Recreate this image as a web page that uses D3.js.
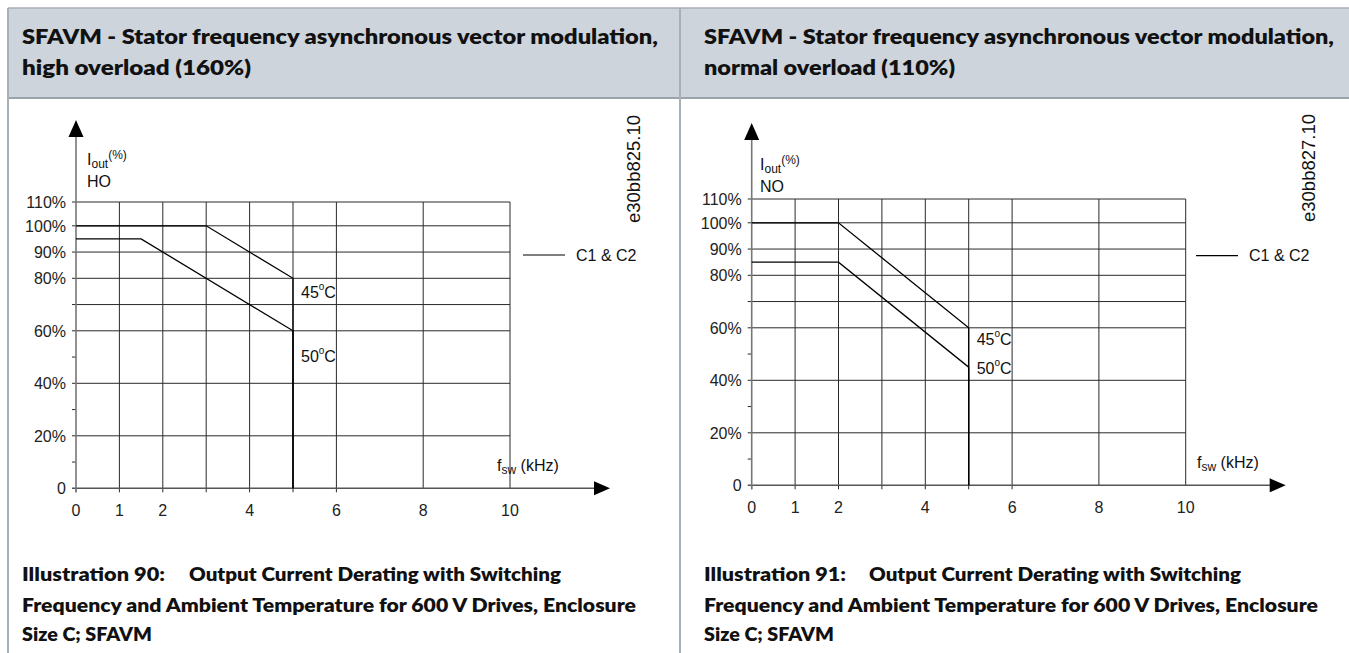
<!DOCTYPE html>
<html>
<head>
<meta charset="utf-8">
<script src="https://cdn.jsdelivr.net/npm/d3@7"></script>
<style>
  html, body { margin: 0; padding: 0; background: #fff; overflow: hidden; }
  svg { display: block; }
</style>
</head>
<body>
<script>
// Break points of the derating curves: switching frequency (kHz) / output current (%)
const hoFreq45 = [0, 3, 5, 5];
const hoCurrent45 = [100, 100, 80, 0];
const hoFreq50 = [0, 1.5, 5, 5];
const hoCurrent50 = [95, 95, 60, 0];
const noFreq45 = [0, 2, 5, 5];
const noCurrent45 = [100, 100, 60, 0];
const noFreq50 = [0, 2, 5, 5];
const noCurrent50 = [85, 85, 45, 0];

// Axis ticks and grid
const yTickValues = [0, 20, 40, 60, 80, 90, 100, 110];
const yTickLabels = ["0", "20%", "40%", "60%", "80%", "90%", "100%", "110%"];
const yGridValues = [20, 40, 60, 70, 80, 90, 100, 110];
const yMinorTicks = [10, 30, 50];
const xTickValues = [0, 1, 2, 4, 6, 8, 10];
const xTickLabels = ["0", "1", "2", "4", "6", "8", "10"];
const xGridValues = [1, 2, 3, 4, 5, 6, 8, 10];
const xAxisTicks = [0, 1, 2, 3, 4, 5, 6];

// Texts
const temperatureLabels = ["45", "50"];
const ratingLabels = ["HO", "NO"];
const drawingCodes = ["e30bb825.10", "e30bb827.10"];
const headerLine1 = "SFAVM - Stator frequency asynchronous vector modulation,";
const headerLine2 = ["high overload (160%)", "normal overload (110%)"];
const illustrationLabels = ["Illustration  90:", "Illustration  91:"];
const captionLines = [
  "Output Current Derating with Switching",
  "Frequency and Ambient Temperature for 600 V Drives, Enclosure",
  "Size C; SFAVM"
];
const legendLabel = "C1 & C2";

const W = 1349, H = 653;
const chartFont = "'Liberation Sans', Arial, sans-serif";
const headFont = "Lato, 'Open Sans', sans-serif";

const svg = d3.select("body").append("svg")
  .attr("width", W).attr("height", H);

// ---------- table frame ----------
const colX = [8, 680];
const headTop = 8, headBottom = 98;

svg.append("rect")
  .attr("x", 8).attr("y", headTop)
  .attr("width", W - 8).attr("height", headBottom - headTop)
  .attr("fill", "#cdd4db");
svg.append("line").attr("x1", 8).attr("x2", W).attr("y1", headTop).attr("y2", headTop)
  .attr("stroke", "#a7afb7").attr("stroke-width", 1.5);
svg.append("line").attr("x1", 8).attr("x2", W).attr("y1", headBottom).attr("y2", headBottom)
  .attr("stroke", "#9aa2ab").attr("stroke-width", 2);
colX.forEach(cx => {
  svg.append("line").attr("x1", cx).attr("x2", cx).attr("y1", headTop).attr("y2", H)
    .attr("stroke", "#a7afb7").attr("stroke-width", 2);
});

// header texts
const headerGeom = [
  { x: 22, w1: 636, w2: 229 },
  { x: 704, w1: 630, w2: 251 }
];
headerGeom.forEach((g, i) => {
  svg.append("text")
    .attr("x", g.x).attr("y", 44)
    .attr("font-family", headFont).attr("font-weight", 800).attr("font-size", 21)
    .attr("fill", "#111")
    .attr("textLength", g.w1).attr("lengthAdjust", "spacingAndGlyphs")
    .text(headerLine1);
  svg.append("text")
    .attr("x", g.x).attr("y", 75)
    .attr("font-family", headFont).attr("font-weight", 800).attr("font-size", 21)
    .attr("fill", "#111")
    .attr("textLength", g.w2).attr("lengthAdjust", "spacingAndGlyphs")
    .text(headerLine2[i]);
});

// captions
const captionGeom = [
  { x: 22, illW: 143, outX: 189, outW: 372, w2: 614, w3: 130 },
  { x: 704, illW: 142, outX: 869, outW: 372, w2: 614, w3: 130 }
];
captionGeom.forEach((g, i) => {
  const cap = svg.append("g")
    .attr("font-family", headFont).attr("font-weight", 800).attr("font-size", 19)
    .attr("fill", "#111");
  cap.append("text").attr("x", g.x).attr("y", 581)
    .attr("textLength", g.illW).attr("lengthAdjust", "spacingAndGlyphs")
    .text(illustrationLabels[i]);
  cap.append("text").attr("x", g.outX).attr("y", 581)
    .attr("textLength", g.outW).attr("lengthAdjust", "spacingAndGlyphs")
    .text(captionLines[0]);
  cap.append("text").attr("x", g.x).attr("y", 612)
    .attr("textLength", g.w2).attr("lengthAdjust", "spacingAndGlyphs")
    .text(captionLines[1]);
  cap.append("text").attr("x", g.x).attr("y", 641)
    .attr("textLength", g.w3).attr("lengthAdjust", "spacingAndGlyphs")
    .text(captionLines[2]);
});

// ---------- charts ----------
const panels = [
  {
    x0: 76, y0: 488.3, arrowTip: 120,
    labelX: 87, labelBase: 165, ratingBase: 187,
    codeX: 633, codeBottom: 223,
    legendY: 255, legendX1: 523, legendX2: 565, legendTextX: 576,
    fswX: 497, fswY: 471,
    curves: [
      { f: hoFreq45, c: hoCurrent45, labelAt: 72.5 },
      { f: hoFreq50, c: hoCurrent50, labelAt: 48 }
    ]
  },
  {
    x0: 751.7, y0: 485.3, arrowTip: 123,
    labelX: 760, labelBase: 170, ratingBase: 191.7,
    codeX: 1308, codeBottom: 222,
    legendY: 255.7, legendX1: 1196, legendX2: 1238, legendTextX: 1249,
    fswX: 1197, fswY: 468,
    curves: [
      { f: noFreq45, c: noCurrent45, labelAt: 53.3 },
      { f: noFreq50, c: noCurrent50, labelAt: 42.3 }
    ]
  }
];

panels.forEach((p, pi) => {
  const x = d3.scaleLinear().domain([0, 10]).range([p.x0, p.x0 + 434]);
  const y = d3.scaleLinear().domain([0, 100, 110]).range([p.y0, p.y0 - 262.5, p.y0 - 286.3]);
  const g = svg.append("g");

  // horizontal grid
  g.selectAll(".hg").data(yGridValues).join("line")
    .attr("x1", p.x0 - 4).attr("x2", x(10))
    .attr("y1", d => y(d)).attr("y2", d => y(d))
    .attr("stroke", "#2a2a2a").attr("stroke-width", 1);

  // minor y ticks
  g.selectAll(".mt").data(yMinorTicks).join("line")
    .attr("x1", p.x0 - 4).attr("x2", p.x0)
    .attr("y1", d => y(d)).attr("y2", d => y(d))
    .attr("stroke", "#2a2a2a").attr("stroke-width", 1);

  // vertical grid
  g.selectAll(".vg").data(xGridValues).join("line")
    .attr("x1", d => x(d)).attr("x2", d => x(d))
    .attr("y1", y(110)).attr("y2", y(0))
    .attr("stroke", "#2a2a2a").attr("stroke-width", 1);

  // ticks below x axis
  g.selectAll(".xt").data(xAxisTicks).join("line")
    .attr("x1", d => x(d)).attr("x2", d => x(d))
    .attr("y1", y(0)).attr("y2", y(0) + 4)
    .attr("stroke", "#2a2a2a").attr("stroke-width", 1);

  // x axis with arrow
  const xEnd = x(10) + 100;
  g.append("line")
    .attr("x1", p.x0 - 4).attr("x2", xEnd - 12)
    .attr("y1", y(0)).attr("y2", y(0))
    .attr("stroke", "#555").attr("stroke-width", 1.5);
  g.append("path")
    .attr("d", `M${xEnd},${y(0)} L${xEnd - 16},${y(0) - 7} L${xEnd - 16},${y(0) + 7} Z`)
    .attr("fill", "#000");

  // y axis with arrow
  g.append("line")
    .attr("x1", p.x0).attr("x2", p.x0)
    .attr("y1", y(0) + 4).attr("y2", p.arrowTip + 12)
    .attr("stroke", "#777").attr("stroke-width", 1.6);
  g.append("path")
    .attr("d", `M${p.x0},${p.arrowTip} L${p.x0 - 7.5},${p.arrowTip + 17} L${p.x0 + 7.5},${p.arrowTip + 17} Z`)
    .attr("fill", "#000");

  // y tick labels
  g.selectAll(".yl").data(yTickValues).join("text")
    .attr("x", p.x0 - 10).attr("y", d => y(d))
    .attr("dy", "0.36em")
    .attr("text-anchor", "end")
    .attr("font-family", chartFont).attr("font-size", 16).attr("fill", "#222")
    .text((d, i) => yTickLabels[i]);

  // x tick labels
  g.selectAll(".xl").data(xTickValues).join("text")
    .attr("x", d => x(d)).attr("y", y(0) + 28)
    .attr("text-anchor", "middle")
    .attr("font-family", chartFont).attr("font-size", 16).attr("fill", "#222")
    .text((d, i) => xTickLabels[i]);

  // derating curves
  const line = d3.line().x(d => x(d[0])).y(d => y(d[1]));
  p.curves.forEach((cv, ci) => {
    g.append("path")
      .attr("d", line(d3.zip(cv.f, cv.c)))
      .attr("fill", "none").attr("stroke", "#000").attr("stroke-width", 1.3);

    const t = g.append("text")
      .attr("x", x(cv.f[cv.f.length - 1]) + 8).attr("y", y(cv.labelAt))
      .attr("font-family", chartFont).attr("font-size", 16).attr("fill", "#111");
    t.append("tspan").text(temperatureLabels[ci]);
    t.append("tspan").attr("font-size", 10).attr("dy", -8).text("o");
    t.append("tspan").attr("dy", 8).text("C");
  });

  // y axis title
  const yt = g.append("text")
    .attr("x", p.labelX).attr("y", p.labelBase)
    .attr("font-family", chartFont).attr("font-size", 16).attr("fill", "#111");
  yt.append("tspan").text("I");
  yt.append("tspan").attr("font-size", 12).attr("dy", 3).text("out");
  yt.append("tspan").attr("font-size", 12).attr("dy", -9).text("(%)");
  g.append("text")
    .attr("x", p.labelX).attr("y", p.ratingBase)
    .attr("font-family", chartFont).attr("font-size", 16).attr("fill", "#111")
    .text(ratingLabels[pi]);

  // x axis title
  const xt = g.append("text")
    .attr("x", p.fswX).attr("y", p.fswY)
    .attr("font-family", chartFont).attr("font-size", 16).attr("fill", "#111");
  xt.append("tspan").text("f");
  xt.append("tspan").attr("font-size", 12).attr("dy", 3).text("sw");
  xt.append("tspan").attr("dy", -3).text(" (kHz)");

  // legend
  g.append("line")
    .attr("x1", p.legendX1).attr("x2", p.legendX2)
    .attr("y1", p.legendY).attr("y2", p.legendY)
    .attr("stroke", "#000").attr("stroke-width", 1.2);
  g.append("text")
    .attr("x", p.legendTextX).attr("y", p.legendY).attr("dy", "0.36em")
    .attr("font-family", chartFont).attr("font-size", 16).attr("fill", "#111")
    .text(legendLabel);

  // drawing code, rotated
  g.append("text")
    .attr("transform", `translate(${p.codeX},${p.codeBottom}) rotate(-90)`)
    .attr("dominant-baseline", "central")
    .attr("font-family", chartFont).attr("font-size", 18.5).attr("fill", "#111")
    .text(drawingCodes[pi]);
});
</script>
</body>
</html>
